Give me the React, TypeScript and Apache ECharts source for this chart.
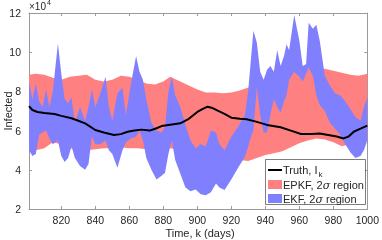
import React, { useEffect, useRef } from "react";
import * as echarts from "echarts";

// ---- data (values in units of 10^4 infected) ----
const xTicks = [820, 840, 860, 880, 900, 920, 940, 960, 980, 1000];
const yTicks = [2, 4, 6, 8, 10, 12];

const truthK = [801, 803, 806, 810, 816, 820, 826, 830, 834, 837, 840, 845, 851, 855, 859, 863, 867, 872, 876, 879, 884, 890, 895, 900, 903, 906, 909, 912, 916, 920, 925, 929, 934, 941, 949, 955, 961, 967, 972, 977, 982, 986, 989, 992, 996, 1000];
const truthV = [7.25, 7.05, 6.95, 6.9, 6.85, 6.75, 6.63, 6.5, 6.37, 6.2, 6.03, 5.9, 5.78, 5.82, 5.94, 6.0, 6.05, 6.0, 6.12, 6.23, 6.3, 6.37, 6.6, 6.95, 7.1, 7.22, 7.15, 7.02, 6.85, 6.66, 6.6, 6.58, 6.47, 6.29, 6.17, 6.0, 5.83, 5.83, 5.85, 5.78, 5.7, 5.6, 5.7, 5.94, 6.1, 6.25];

const epkfK = [801, 805, 810, 815, 820, 825, 830, 835, 840, 845, 850, 855, 860, 865, 870, 875, 880, 884, 890, 895, 900, 905, 910, 915, 920, 925, 930, 935, 940, 945, 950, 955, 960, 965, 970, 975, 980, 985, 990, 995, 1000];
const epkfUpper = [8.85, 8.9, 8.85, 8.7, 8.6, 8.75, 8.8, 8.85, 8.6, 8.5, 8.6, 8.8, 8.75, 8.6, 8.4, 8.35, 8.5, 8.75, 8.5, 8.3, 8.1, 7.95, 7.95, 7.9, 7.95, 8.05, 8.2, 8.4, 8.6, 8.8, 8.95, 9.05, 9.1, 9.15, 9.2, 9.15, 9.05, 8.95, 8.85, 8.8, 8.9];
const epkfLower = [5.2, 5.0, 5.1, 5.4, 5.3, 5.1, 5.0, 5.0, 5.05, 5.1, 5.1, 5.15, 5.1, 5.1, 5.05, 5.0, 5.1, 5.1, 5.0, 4.9, 4.8, 4.8, 4.75, 4.7, 4.6, 4.5, 4.45, 4.6, 4.75, 4.85, 4.95, 5.15, 5.35, 5.5, 5.6, 5.55, 5.4, 5.2, 5.3, 5.5, 5.5];

const ekfK = [801, 803, 805, 807, 809, 811, 813, 815, 818, 820, 822, 824, 826, 828, 831, 834, 836, 838, 840, 843, 846, 848, 850, 853, 856, 858, 861, 864, 866, 868, 870, 873, 876, 879, 881, 883, 885, 887, 890, 893, 896, 899, 902, 905, 908, 911, 913, 916, 920, 924, 928, 930, 932, 933, 935, 937, 939, 941, 943, 945, 947, 949, 951, 952.5, 954, 957, 960, 962, 964, 965.5, 968, 970, 972, 975, 978, 981, 984, 987, 990, 993, 996, 998, 1000];
const ekfUpper = [8.5, 7.6, 8.4, 7.5, 7.2, 8.1, 7.2, 8.0, 10.45, 8.9, 7.6, 7.4, 7.7, 6.4, 7.2, 6.5, 7.2, 8.1, 7.2, 7.9, 8.75, 7.2, 6.5, 7.9, 8.2, 6.8, 8.4, 9.8, 9.0, 8.6, 7.6, 6.4, 6.0, 5.9, 6.2, 8.0, 8.75, 7.8, 7.2, 6.3, 5.5, 5.1, 5.3, 5.2, 6.0, 5.9, 5.3, 5.0, 5.7, 6.2, 6.8, 8.1, 10.1, 11.1, 10.5, 9.0, 8.6, 9.1, 9.3, 9.0, 10.1, 9.3, 9.8, 10.4, 10.1, 11.9, 10.6, 9.3, 9.4, 11.5, 11.2, 11.4, 10.6, 8.8, 8.3, 7.9, 7.8, 7.5, 7.1, 6.7, 6.5, 7.2, 7.7];
const ekfLower = [5.0, 4.7, 4.8, 5.8, 5.9, 6.0, 5.6, 5.3, 5.5, 4.7, 4.4, 4.6, 5.2, 4.6, 4.2, 4.0, 4.3, 5.7, 5.3, 5.3, 5.5, 5.0, 4.8, 4.1, 5.0, 5.4, 5.6, 5.7, 6.0, 5.5, 4.6, 4.0, 3.5, 3.7, 3.85, 4.8, 5.5, 4.5, 3.8, 3.1, 2.9, 3.0, 2.75, 2.7, 2.85, 3.3, 3.1, 2.97, 3.5, 4.1, 4.67, 5.2, 5.8, 6.0, 8.2, 6.8, 5.9, 5.9, 6.8, 7.6, 7.2, 6.9, 7.5, 7.8, 8.6, 9.0, 8.75, 8.5, 8.9, 9.2, 8.8, 7.8, 7.3, 7.0, 6.4, 6.1, 5.8, 5.3, 4.9, 4.6, 4.7, 5.0, 5.5];

const FONT = "'Liberation Sans', Arial, Helvetica, sans-serif";
const TXT = "#262626";
const AX = "#9a9a9a";

function band(name: string, ks: number[], lo: number[], hi: number[], color: string, z: number) {
  return {
    type: "custom",
    name,
    z,
    clip: true,
    data: ks.map((k, i) => [k, lo[i], hi[i]]),
    encode: { x: 0, y: [1, 2] },
    renderItem: (params: any, api: any) => {
      if (params.dataIndex !== 0) return null;
      const pts: number[][] = [];
      for (let i = 0; i < ks.length; i++) pts.push(api.coord([ks[i], hi[i]]));
      for (let i = ks.length - 1; i >= 0; i--) pts.push(api.coord([ks[i], lo[i]]));
      return { type: "polygon", shape: { points: pts }, style: { fill: color }, silent: true };
    },
  };
}

const sigmaRich = {
  s: { fontSize: 11, fontStyle: "italic", fontFamily: "'DejaVu Serif', serif", fill: TXT },
};

export default function App() {
  const ref = useRef<HTMLDivElement>(null);
  useEffect(() => {
    if (!ref.current) return;
    const chart = echarts.init(ref.current, null, { renderer: "svg" });
    const xCommon = {
      type: "value",
      min: 801,
      max: 1000,
      splitLine: { show: false },
      axisLine: { show: true, lineStyle: { color: AX, width: 1 } },
      axisTick: { show: true, inside: true, length: 3, customValues: xTicks, lineStyle: { color: AX } },
    };
    const yCommon = {
      type: "value",
      min: 2,
      max: 12,
      interval: 2,
      splitLine: { show: false },
      axisLine: { show: true, lineStyle: { color: AX, width: 1 } },
      axisTick: { show: true, inside: true, length: 3, lineStyle: { color: AX } },
    };
    chart.setOption({
      animation: false,
      grid: { left: 29, top: 13, right: 12, bottom: 31, containLabel: false },
      xAxis: [
        {
          ...xCommon,
          position: "bottom",
          axisLabel: {
            show: true,
            customValues: xTicks,
            formatter: (v: number) => String(v),
            color: TXT,
            fontSize: 10.5,
            fontFamily: FONT,
            margin: 5,
          },
        },
        { ...xCommon, position: "top", axisLabel: { show: false } },
      ],
      yAxis: [
        {
          ...yCommon,
          position: "left",
          axisLabel: {
            show: true,
            formatter: (v: number) => String(v),
            color: TXT,
            fontSize: 10.5,
            fontFamily: FONT,
            margin: 8,
          },
        },
        { ...yCommon, position: "right", axisLabel: { show: false } },
      ],
      series: [
        band("EPKF, 2σ region", epkfK, epkfLower, epkfUpper, "#FF8080", 2),
        band("EKF, 2σ region", ekfK, ekfLower, ekfUpper, "#8080FF", 3),
        {
          type: "line",
          name: "Truth",
          z: 5,
          data: truthK.map((k, i) => [k, truthV[i]]),
          symbol: "none",
          lineStyle: { color: "#000", width: 2 },
        },
      ],
      graphic: [
        { type: "text", left: 29, top: 1, style: { text: "×10", fontSize: 10, fontFamily: FONT, fill: TXT } },
        { type: "text", left: 47, top: -1, style: { text: "4", fontSize: 7, fontFamily: FONT, fill: TXT } },
        {
          type: "text",
          x: 8,
          y: 111,
          rotation: Math.PI / 2,
          style: { text: "Infected", fontSize: 11, fontFamily: FONT, fill: TXT, align: "center", verticalAlign: "middle" },
        },
        {
          type: "text",
          x: 200,
          y: 233,
          style: { text: "Time, k (days)", fontSize: 11, fontFamily: FONT, fill: TXT, align: "center", verticalAlign: "middle" },
        },
        {
          type: "rect",
          z: 100,
          shape: { x: 265.5, y: 159.5, width: 100, height: 45 },
          style: { fill: "#fff", stroke: TXT, lineWidth: 0.6 },
        },
        { type: "line", z: 101, shape: { x1: 268, y1: 170, x2: 282, y2: 170 }, style: { stroke: "#000", lineWidth: 2 } },
        {
          type: "text",
          z: 101,
          x: 283,
          y: 170,
          style: {
            text: "Truth, I{sub|k}",
            fontSize: 11,
            fontFamily: FONT,
            fill: TXT,
            verticalAlign: "middle",
            rich: { sub: { fontSize: 8, fontFamily: FONT, fill: TXT, padding: [9, 0, 0, 1] } },
          } as any,
        },
        { type: "rect", z: 101, shape: { x: 268, y: 180, width: 14, height: 9 }, style: { fill: "#FF8080" } },
        {
          type: "text",
          z: 101,
          x: 283,
          y: 185,
          style: {
            text: "EPKF, 2{s|σ} region",
            fontSize: 11,
            fontFamily: FONT,
            fill: TXT,
            verticalAlign: "middle",
            rich: sigmaRich,
          } as any,
        },
        { type: "rect", z: 101, shape: { x: 268, y: 194, width: 14, height: 9 }, style: { fill: "#8080FF" } },
        {
          type: "text",
          z: 101,
          x: 283,
          y: 199,
          style: {
            text: "EKF, 2{s|σ} region",
            fontSize: 11,
            fontFamily: FONT,
            fill: TXT,
            verticalAlign: "middle",
            rich: sigmaRich,
          } as any,
        },
      ],
    } as any);
    return () => chart.dispose();
  }, []);
  return <div ref={ref} style={{ position: "fixed", left: 0, top: 0, width: 382, height: 240 }} />;
}
